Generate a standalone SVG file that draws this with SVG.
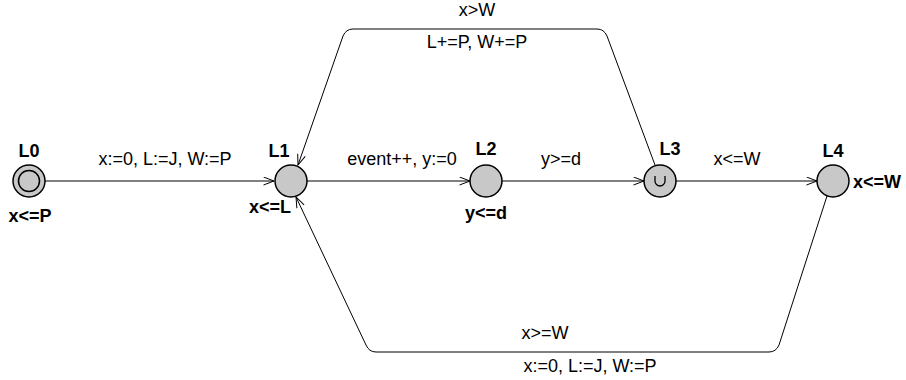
<svg xmlns="http://www.w3.org/2000/svg" width="906" height="380" viewBox="0 0 906 380">
<style>
.loc{fill:#c8c8c8;stroke:#000;stroke-width:1.5}
.inner{fill:none;stroke:#000;stroke-width:1.5}
.name{font-family:"Liberation Sans",Arial,sans-serif;font-weight:bold;font-size:18px;fill:#000}
.inv{font-family:"Liberation Sans",Arial,sans-serif;font-weight:bold;font-size:18px;fill:#000}
.lbl{font-family:"Liberation Sans",Arial,sans-serif;font-size:18px;fill:#000}
.edge{fill:none;stroke:#000;stroke-width:1}
</style>
<defs>
<marker id="arr" markerUnits="userSpaceOnUse" markerWidth="12" markerHeight="10" refX="11" refY="4.5" orient="auto">
<path d="M0.5,0.5 L11,4.5 L0.5,8.5" fill="none" stroke="#000" stroke-width="1"/>
</marker>
</defs>
<g id="edges">
<path class="edge" d="M45,181 L274,181" marker-end="url(#arr)"/>
<path class="edge" d="M307,181 L470,181" marker-end="url(#arr)"/>
<path class="edge" d="M502,181 L644,181" marker-end="url(#arr)"/>
<path class="edge" d="M676,181 L817,181" marker-end="url(#arr)"/>
<path class="edge" d="M655,165 L607,36 Q604,29 597,29 L353,29 Q346,29 343,36 L298,165" marker-end="url(#arr)"/>
<path class="edge" d="M827,196 L779,345 Q776,352 769,352 L376,352 Q369,352 366,345 L296,197" marker-end="url(#arr)"/>
<text class="lbl" x="165" y="165" text-anchor="middle">x:=0, L:=J, W:=P</text>
<text class="lbl" x="402" y="165" text-anchor="middle">event++, y:=0</text>
<text class="lbl" x="561" y="165" text-anchor="middle">y&gt;=d</text>
<text class="lbl" x="737" y="165" text-anchor="middle">x&lt;=W</text>
<text class="lbl" x="477" y="16" text-anchor="middle">x&gt;W</text>
<text class="lbl" x="477" y="48" text-anchor="middle">L+=P, W+=P</text>
<text class="lbl" x="545" y="339" text-anchor="middle">x&gt;=W</text>
<text class="lbl" x="590" y="372" text-anchor="middle">x:=0, L:=J, W:=P</text>
</g>
<g id="L0">
<circle class="loc" cx="29" cy="181" r="16"/>
<circle class="inner" cx="29" cy="181" r="10.5"/>
<text class="name" x="29" y="157" text-anchor="middle">L0</text>
<text class="inv" x="30" y="222" text-anchor="middle">x&lt;=P</text>
</g>
<g id="L1">
<circle class="loc" cx="291" cy="181" r="16"/>
<text class="name" x="279" y="157" text-anchor="middle">L1</text>
<text class="inv" x="270" y="213" text-anchor="middle">x&lt;=L</text>
</g>
<g id="L2">
<circle class="loc" cx="486" cy="181" r="16"/>
<text class="name" x="486" y="155" text-anchor="middle">L2</text>
<text class="inv" x="486" y="219" text-anchor="middle">y&lt;=d</text>
</g>
<g id="L3">
<circle class="loc" cx="660" cy="181" r="16"/>
<path d="M655,176 L655,181 A5,5 0 0 0 665,181 L665,176" fill="none" stroke="#000" stroke-width="1.3"/>
<text class="name" x="670" y="155" text-anchor="middle">L3</text>
</g>
<g id="L4">
<circle class="loc" cx="833" cy="181" r="16"/>
<text class="name" x="833" y="157" text-anchor="middle">L4</text>
<text class="inv" x="853" y="188">x&lt;=W</text>
</g>
</svg>
